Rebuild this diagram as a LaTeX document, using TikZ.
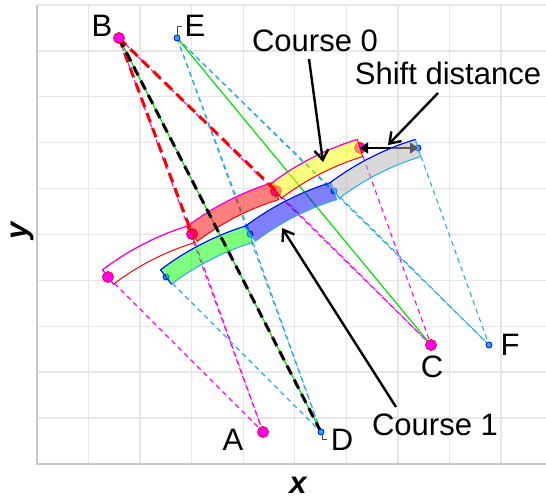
\documentclass[tikz,border=0pt]{standalone}
\usepackage{fontspec}
\setmainfont{Liberation Sans}
\usetikzlibrary{arrows.meta}
\definecolor{skyline}{RGB}{40,170,235}
\definecolor{trackpink}{RGB}{255,0,255}
\definecolor{trackyellow}{RGB}{255,255,0}
\definecolor{trackgreen}{RGB}{0,255,0}
\definecolor{gridgrey}{RGB}{230,230,230}
\definecolor{framegrey}{RGB}{200,200,200}

\begin{document}
\begin{tikzpicture}[x=1pt,y=1pt,
    gridline/.style={gridgrey,line width=1.4pt},
    panel/.style={framegrey,line width=1.4pt},
    ray0/.style={trackpink,line width=1.1pt,dash pattern=on 5pt off 4pt},
    ray1/.style={skyline,line width=1.1pt,dash pattern=on 5pt off 4pt},
    sight/.style={trackgreen!90!black,line width=1.2pt},
    bigdash/.style={line width=3pt,dash pattern=on 10pt off 6pt},
    pt0/.style={circle,fill=trackpink,draw=red,line width=0.8pt,inner sep=0pt,minimum size=11pt},
    pt1/.style={circle,fill=skyline,draw=blue,line width=0.8pt,inner sep=0pt,minimum size=6pt},
    lbl/.style={font=\fontsize{31}{36}\selectfont,inner sep=0pt},
    axlbl/.style={font=\fontsize{31}{36}\selectfont\bfseries\itshape,inner sep=0pt},
    callout/.style={-{Straight Barb[length=10pt,width=14pt]},line width=2.4pt},
    tickmark/.style={black!70,line width=0.8pt}]
  \useasboundingbox (0,0) rectangle (546,500);

  % panel grid
  \foreach \i in {1,...,9}
    \draw[gridline] ({37+51.55*\i},36) -- ({37+51.55*\i},495);
  \foreach \j in {1,...,10}
    \draw[gridline] (37,{36+45.9*\j}) -- (546,{36+45.9*\j});
  \draw[panel] (546,36) -- (37,36) -- (37,495);

  % targets and observers
  \coordinate (A) at (263,68);
  \coordinate (B) at (119,462);
  \coordinate (C) at (431,155);
  \coordinate (D) at (321,68);
  \coordinate (E) at (177,462);
  \coordinate (F) at (489,155);
  \foreach \k/\x/\y in {0/108/223,1/192/266,2/276/309,3/360/352}{
    \coordinate (c0p\k) at (\x,\y);
    \coordinate (c1p\k) at ({\x+58},\y);
  }

  % sight rays
  \foreach \p/\q in {B/A,B/C,c0p0/A,c0p1/A,c0p2/C,c0p3/C}
    \draw[ray0] (\p) -- (\q);
  \foreach \p/\q in {E/D,E/F,E/c1p1,E/c1p2,c1p0/D,c1p1/D,c1p2/F,c1p3/F}
    \draw[ray1] (\p) -- (\q);
  \draw[sight] (B) -- (D);
  \draw[sight] (E) -- (C);

  \foreach \k in {0,...,3}{
    \node[pt0] (c0p\k-dot) at (c0p\k) {};
    \node[pt1] (c1p\k-dot) at (c1p\k) {};
  }

  % course 0
  \foreach \s/\fc in {c0p0/none,c0p1/red,c0p2/trackyellow}{
    \filldraw[fill=\fc,fill opacity=0.5,draw=red,line width=1pt]
      (\s) ++(127.1:9) arc[start angle=127.1,end angle=107.1,radius=280.8]
      -- ++(287.1:18) arc[start angle=107.1,end angle=127.1,radius=262.8] -- cycle;
    \draw[trackpink,line width=1pt]
      (\s) ++(127.1:9) arc[start angle=127.1,end angle=107.1,radius=280.8];
  }
  \draw[trackpink,line width=1pt] (c0p0) ++(307.1:9) -- ++(127.1:18);

  \draw[{Triangle[length=8pt,width=11pt]}-{Triangle[length=8pt,width=11pt]},line width=2.4pt]
    (c0p3) -- (c1p3);

  % course 1
  \foreach \s/\fc in {c1p0/trackgreen,c1p1/blue,c1p2/gray!60}{
    \filldraw[fill=\fc,fill opacity=0.5,draw=skyline,line width=1pt]
      (\s) ++(127.1:9) arc[start angle=127.1,end angle=107.1,radius=280.8]
      -- ++(287.1:18) arc[start angle=107.1,end angle=127.1,radius=262.8] -- cycle;
    \draw[blue,line width=1pt]
      (\s) ++(127.1:9) arc[start angle=127.1,end angle=107.1,radius=280.8];
  }
  \draw[blue,line width=1pt] (c1p0) ++(307.1:9) -- ++(127.1:18);

  \draw[bigdash,red] (B) -- (c0p1);
  \draw[bigdash,red] (B) -- (c0p2);
  \draw[bigdash,black] (B) -- (D);

  \foreach \p in {A,B,C}
    \node[pt0] (\p-dot) at (\p) {};
  \foreach \p in {D,E,F}
    \node[pt1] (\p-dot) at (\p) {};
  \draw[tickmark] (E) ++(0,2) -- ++(0,10) -- ++(5,0);
  \draw[tickmark] (D) ++(1,-3) -- ++(0,-4) -- ++(5,0);

  % callouts
  \node[lbl] (lab0) at (315,459) {Course 0};
  \node[lbl] (labshift) at (448,427) {Shift distance};
  \node[lbl] (lab1) at (435,75) {Course 1};
  \coordinate (tail0) at (309,441);
  \coordinate (tip0) at (323,338);
  \coordinate (tailshift) at (438,407);
  \coordinate (tipshift) at (388,355);
  \coordinate (tail1) at (396,93);
  \coordinate (tip1) at (282,272);
  \draw[callout] (tail0) -- (tip0);
  \draw[callout] (tailshift) -- (tipshift);
  \draw[callout] (tail1) -- (tip1);

  \node[lbl] (labA) at (233,60) {A};
  \node[lbl] (labB) at (102,474) {B};
  \node[lbl] (labC) at (432,133) {C};
  \node[lbl] (labD) at (342,60) {D};
  \node[lbl] (labE) at (195,474) {E};
  \node[lbl] (labF) at (510,155) {F};

  \node[axlbl] (xlab) at (298,15) {x};
  \node[axlbl,rotate=90] (ylab) at (23,269) {y};
\end{tikzpicture}
\end{document}
